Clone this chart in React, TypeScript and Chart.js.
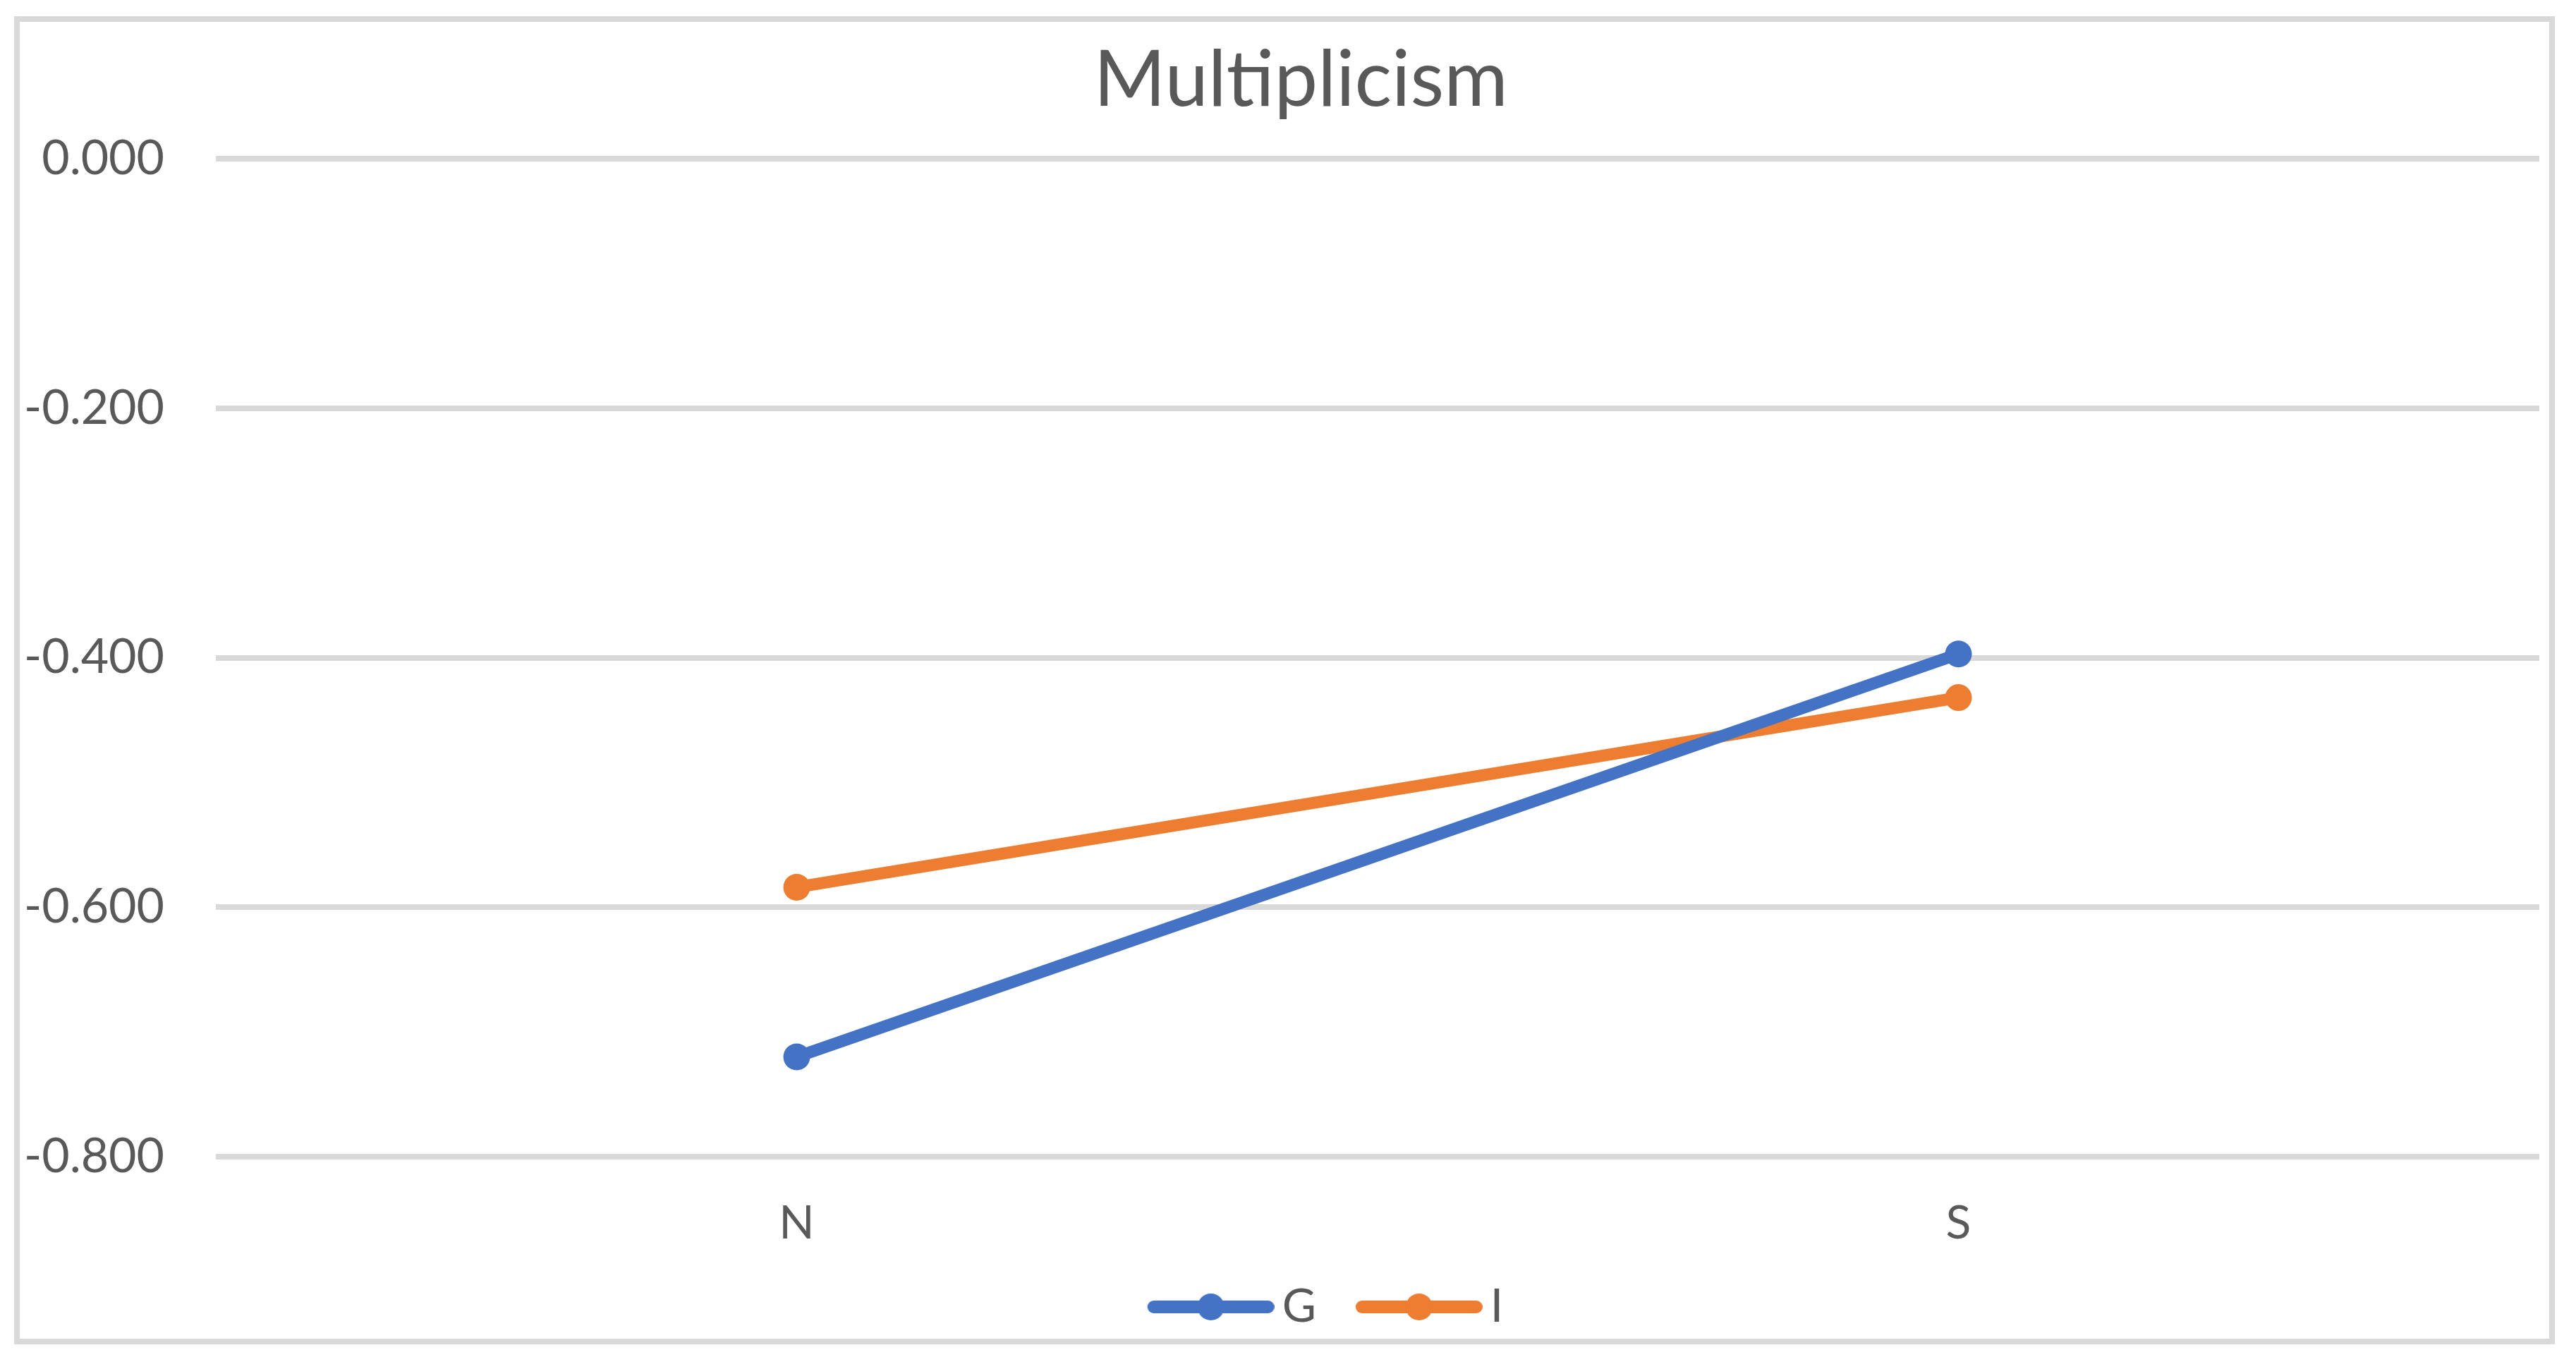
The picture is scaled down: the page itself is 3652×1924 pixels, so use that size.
import React, { useEffect, useRef } from 'react';
import { Chart, registerables } from 'chart.js';

Chart.register(...registerables);

const chartTitle = 'Multiplicism';
const categories = ['N', 'S'];
const seriesNames = ['G', 'I'];
const seriesG = [-0.72, -0.397];
const seriesI = [-0.584, -0.432];
const seriesColors = ['#4472C4', '#ED7D31'];
const yMin = -0.8;
const yMax = 0;
const yStep = 0.2;

const FONT = 'Lato';
const TEXT_COLOR = '#595959';
const GRID_COLOR = '#D9D9D9';

const LEG_BLANK = 58; // transparent space before legend line
const LEG_LINE = 180;

function makeLegendImage(color: string): HTMLCanvasElement {
  const c = document.createElement('canvas');
  c.width = LEG_BLANK + LEG_LINE;
  c.height = 42;
  const ctx = c.getContext('2d')!;
  ctx.strokeStyle = color;
  ctx.lineWidth = 18;
  ctx.lineCap = 'round';
  ctx.beginPath();
  ctx.moveTo(LEG_BLANK + 9, 21);
  ctx.lineTo(LEG_BLANK + LEG_LINE - 9, 21);
  ctx.stroke();
  ctx.fillStyle = color;
  ctx.beginPath();
  ctx.arc(LEG_BLANK + LEG_LINE / 2, 21, 19, 0, Math.PI * 2);
  ctx.fill();
  return c;
}

const framePlugin = {
  id: 'frame',
  afterLayout(chart: any) {
    // centre the title on the outer frame rather than the padded layout box
    const tb = chart.titleBlock;
    if (tb) {
      tb.left -= 17;
      tb.right -= 17;
    }
  },
  beforeDraw(chart: any) {
    const ctx = chart.ctx;
    ctx.save();
    ctx.fillStyle = '#FFFFFF';
    ctx.fillRect(0, 0, chart.width, chart.height);
    ctx.strokeStyle = GRID_COLOR;
    ctx.lineWidth = 8;
    ctx.strokeRect(24, 27, 3594, 1875);
    ctx.restore();
  },
};

export default function App() {
  const ref = useRef<HTMLCanvasElement | null>(null);

  useEffect(() => {
    if (!ref.current) return;
    const images = seriesColors.map((c) => makeLegendImage(c));
    const padLeft = 122;
    const chart = new Chart(ref.current, {
      type: 'line',
      data: {
        labels: categories,
        datasets: [
          {
            label: seriesNames[0],
            data: seriesG,
            borderColor: seriesColors[0],
            backgroundColor: seriesColors[0],
            borderWidth: 17,
            pointRadius: 19,
            pointBorderWidth: 0,
            pointBackgroundColor: seriesColors[0],
            pointStyle: 'circle',
            tension: 0,
          },
          {
            label: seriesNames[1],
            data: seriesI,
            borderColor: seriesColors[1],
            backgroundColor: seriesColors[1],
            borderWidth: 17,
            pointRadius: 19,
            pointBorderWidth: 0,
            pointBackgroundColor: seriesColors[1],
            pointStyle: 'circle',
            tension: 0,
          },
        ],
      },
      options: {
        responsive: false,
        animation: false,
        devicePixelRatio: 1,
        layout: { padding: { left: padLeft, right: 52, top: 0, bottom: 28 } },
        plugins: {
          title: {
            display: true,
            text: chartTitle,
            color: TEXT_COLOR,
            font: { family: FONT, size: 110, weight: 'normal' },
            padding: { top: 49, bottom: 44 },
          },
          legend: {
            display: true,
            position: 'bottom',
            labels: {
              color: TEXT_COLOR,
              font: { family: FONT, size: 66 },
              usePointStyle: true,
              pointStyleWidth: LEG_BLANK + LEG_LINE - 44,
              padding: 20,
              generateLabels: (ch: any) =>
                ch.data.datasets.map((ds: any, i: number) => ({
                  text: ds.label,
                  fillStyle: seriesColors[i],
                  strokeStyle: seriesColors[i],
                  lineWidth: 0,
                  pointStyle: images[i],
                  hidden: false,
                  datasetIndex: i,
                  fontColor: TEXT_COLOR,
                })),
            },
          },
          tooltip: { enabled: false },
        },
        scales: {
          x: {
            type: 'category',
            offset: true,
            grid: { display: false, drawTicks: false },
            border: { display: false },
            ticks: {
              color: TEXT_COLOR,
              font: { family: FONT, size: 66 },
              padding: 55,
            },
            afterFit: (scale: any) => {
              scale.height = 160;
            },
          },
          y: {
            min: yMin,
            max: yMax,
            grid: { color: GRID_COLOR, lineWidth: 8, drawTicks: false },
            border: { display: false },
            ticks: {
              stepSize: yStep,
              color: TEXT_COLOR,
              font: { family: FONT, size: 68 },
              padding: 73,
              callback: (v: any) => Number(v).toFixed(3),
            },
            afterFit: (scale: any) => {
              scale.width = 306 - padLeft;
              // let the tick labels extend left of the axis box without clipping
              scale._computeLabelArea = () => undefined;
            },
          },
        },
      },
      plugins: [framePlugin],
    });
    return () => chart.destroy();
  }, []);

  return (
    <div style={{ position: 'fixed', left: 0, top: 0, width: 3652, height: 1924, background: '#fff' }}>
      <canvas ref={ref} width={3652} height={1924} style={{ display: 'block', width: 3652, height: 1924 }} />
    </div>
  );
}
